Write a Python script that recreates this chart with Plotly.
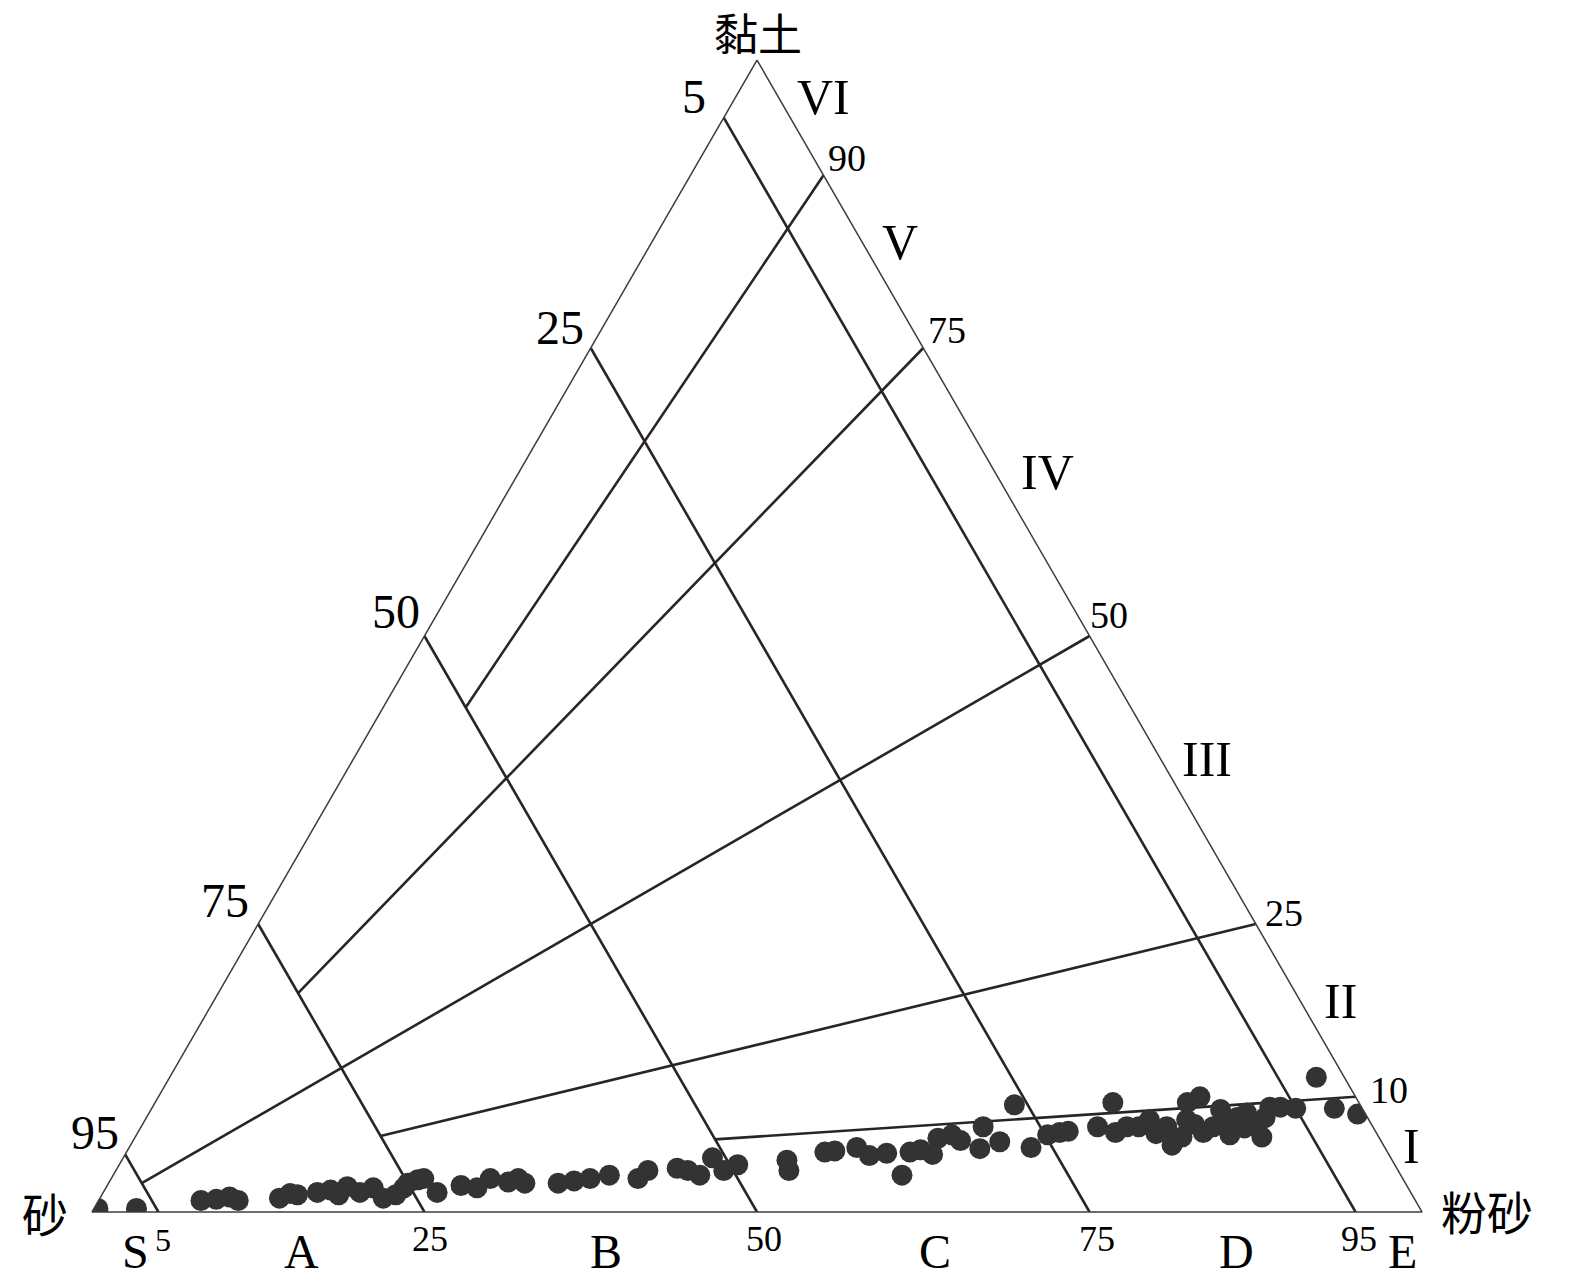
import plotly.graph_objects as go

W, H = 1575, 1284

# ---- sample data: clay % and silt % (sand = remainder) ----
clay = [0.3, 0.3, 1.0, 1.1, 1.3, 1.0, 1.2, 1.5, 1.7, 1.9, 2.2, 1.7, 2.1, 1.2, 2.1, 2.8,
        1.6, 1.5, 1.5,
        2.5, 2.9, 1.7, 2.3, 2.1, 2.9, 2.6, 2.9, 2.5, 2.5, 2.7, 2.9, 3.2, 2.9, 3.6, 3.8, 3.6,
        3.2, 4.7, 3.6, 4.1,
        4.5, 3.6, 5.2, 5.3, 5.6, 4.9, 5.1, 3.2, 5.2, 5.4, 5.0, 6.4, 6.7, 6.2, 7.4, 5.5, 6.1,
        9.3, 5.6, 6.7, 6.9,
        7.0, 7.4, 9.5, 6.9, 7.4, 7.4, 6.8, 7.4, 5.8, 6.5, 9.5, 10.0, 8.0, 6.9, 7.4, 8.9, 6.7,
        8.2, 8.6, 7.4, 6.5, 9.1, 9.1, 9.0, 11.7, 9.0, 8.5,
        8.0, 7.6, 7.7, 7.3, 8.2]
silt = [0.3, 3.2, 7.7, 8.8, 9.7, 10.5, 13.5, 14.7, 16.1, 17.0, 18.1, 19.3, 20.1, 21.3, 22.4, 23.1,
        14.1, 17.8, 22.1,
        22.5, 23.5, 25.1, 26.6, 27.9, 28.5, 30.0, 30.6, 31.3, 33.8, 34.9, 36.0, 37.3, 39.6, 40.0,
        42.1, 43.0, 44.1, 44.3, 45.7, 46.5,
        50.0, 50.6, 52.5, 53.2, 54.7, 56.0, 57.2, 59.3, 58.9, 59.6, 60.7, 60.4, 61.3, 62.2, 63.3,
        64.0, 65.2, 64.7, 67.8, 68.5, 69.3,
        69.9, 71.9, 72.0, 73.5, 74.1, 75.0, 76.6, 77.1, 78.3, 78.7, 77.6, 78.3, 78.3, 80.1, 80.6,
        80.4, 82.2, 82.0, 82.5, 83.9, 84.7, 84.0, 84.8, 86.0, 86.2, 88.9, 90.9,
        75.5, 79.1, 81.3, 83.0, 84.1]
sand = [round(100 - a - c, 2) for a, c in zip(clay, silt)]

# ---- classification lines ----
sand_levels = [5, 25, 50, 75, 95]                 # lines of constant sand
fan_right_clay = [90, 75, 50, 25, 10]             # fan lines start on the silt-clay side
fan_end_clay = [43.8, 19.0, 2.5, 6.6, 6.3]        # and end on a sand line
fan_end_sand = [50, 75, 95, 75, 50]

left_ticks = ["5", "25", "50", "75", "95"]
right_ticks = ["90", "75", "50", "25", "10"]
roman = ["VI", "V", "IV", "III", "II", "I"]
bottom_letters = ["S", "A", "B", "C", "D", "E"]
bottom_ticks = ["5", "25", "50", "75", "95"]

LINE = "#2a2425"
fig = go.Figure()

for s in sand_levels:
    fig.add_trace(go.Scatterternary(
        a=[100 - s, 0], b=[s, s], c=[0, 100 - s], mode="lines",
        line=dict(color=LINE, width=2.6), hoverinfo="skip", showlegend=False))

for rc, ec, es in zip(fan_right_clay, fan_end_clay, fan_end_sand):
    fig.add_trace(go.Scatterternary(
        a=[rc, ec], b=[0, es], c=[100 - rc, 100 - ec - es], mode="lines",
        line=dict(color=LINE, width=2.6), hoverinfo="skip", showlegend=False))

fig.add_trace(go.Scatterternary(
    a=clay, b=sand, c=silt, mode="markers", cliponaxis=True,
    marker=dict(size=21, color="#333333", line=dict(width=0)),
    showlegend=False))

axis_common = dict(showticklabels=False, showgrid=False, ticks="", title="",
                   linecolor="#3c3c3c", linewidth=1.5, min=0)

fig.update_layout(
    width=W, height=H,
    margin=dict(l=0, r=0, t=0, b=0),
    paper_bgcolor="white",
    ternary=dict(
        sum=100,
        domain=dict(x=[91 / W, 1423 / W], y=[1 - 1212 / H, 1 - 60 / H]),
        bgcolor="white",
        aaxis=axis_common, baxis=axis_common, caxis=axis_common,
    ),
    showlegend=False,
)

SERIF = "Liberation Serif, Times New Roman, serif"
CJK = "Noto Sans CJK SC"


def ann(text, px, py, size, family=SERIF, yanchor="middle"):
    fig.add_annotation(text=text, x=px / W, y=1 - py / H, xref="paper", yref="paper",
                       xanchor="center", yanchor=yanchor, showarrow=False,
                       font=dict(family=family, size=size, color="black"))


# vertex labels
ann("黏土", 758, 32, 44, CJK)
ann("砂", 45, 1212, 46, CJK)
ann("粉砂", 1487, 1210, 46, CJK)

# left side ticks (sand %)
for t, (px, py) in zip(left_ticks, [(694, 96), (560, 327), (396, 612), (225, 900), (95, 1132)]):
    ann(t, px, py, 48)

# right side ticks (clay %)
for t, (px, py) in zip(right_ticks, [(847, 158), (947, 330), (1109, 615), (1284, 913), (1389, 1090)]):
    ann(t, px, py, 38)

# roman numerals
for t, (px, py) in zip(roman, [(823, 97), (900, 242), (1047, 472), (1207, 759), (1340, 1001), (1411, 1146)]):
    ann(t, px, py, 50)

# bottom letters
for t, px in zip(bottom_letters, [135, 301, 606, 935, 1236, 1402]):
    ann(t, px, 1251, 48)

# bottom ticks
ann(bottom_ticks[0], 163, 1240, 32)
for t, px in zip(bottom_ticks[1:], [430, 764, 1097, 1359]):
    ann(t, px, 1239, 36)

fig.write_html("out.html", config={"displayModeBar": False},
               post_script="document.body.style.margin='0px';")
